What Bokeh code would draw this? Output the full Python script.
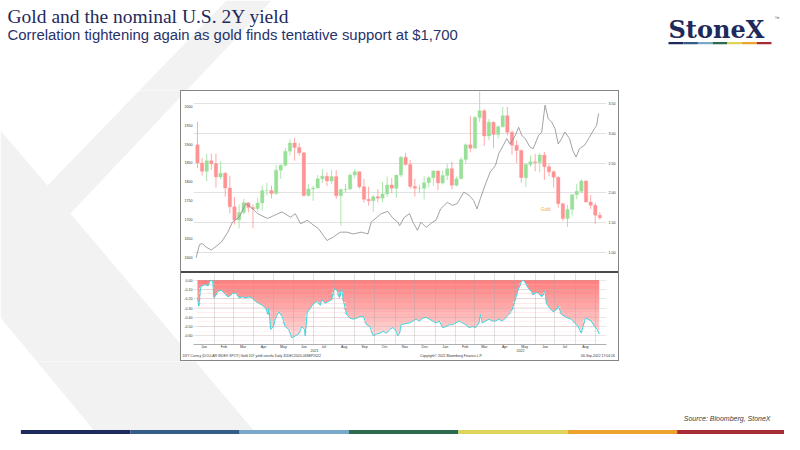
import numpy as np
import pandas as pd
from bokeh.plotting import figure
from bokeh.models import (Range1d, LinearAxis, FixedTicker, NumeralTickFormatter,
                          Grid, Label, Spacer)
from bokeh.layouts import row, column
from bokeh.embed import file_html
from bokeh.resources import INLINE
from bokeh.core.properties import value

# ------------------------------------------------------------------ data
BASE_DATE = "2021-01-01"          # day 0 of the x axis
GOLD_FIRST_WEEK = "2021-01-04"    # weekly gold candles (Mondays)

gold_open = [1898, 1850, 1828, 1856, 1848, 1813, 1823, 1784, 1734, 1699, 1719, 1745, 1732, 1729, 1744,
             1777, 1777, 1769, 1831, 1844, 1881, 1903, 1891, 1877, 1764, 1781, 1784, 1808, 1815, 1802,
             1814, 1763, 1780, 1781, 1818, 1827, 1787, 1754, 1750, 1761, 1757, 1768, 1792, 1783, 1818,
             1865, 1846, 1788, 1783, 1783, 1798, 1811,
             1829, 1797, 1817, 1835, 1791, 1808, 1859, 1898, 1889, 1970, 1988, 1921, 1958, 1925, 1946,
             1975, 1931, 1897, 1883, 1811, 1846, 1853, 1851, 1871, 1840, 1827, 1812, 1742, 1703, 1727,
             1766, 1775, 1802, 1747, 1738, 1712]
gold_high = [1959, 1863, 1875, 1875, 1875, 1855, 1826, 1816, 1760, 1740, 1755, 1745, 1740, 1758, 1790,
             1798, 1790, 1845, 1846, 1890, 1913, 1916, 1903, 1878, 1795, 1790, 1818, 1834, 1825, 1832,
             1831, 1782, 1795, 1823, 1834, 1827, 1808, 1787, 1765, 1781, 1800, 1814, 1810, 1818, 1869,
             1877, 1858, 1808, 1793, 1815, 1815, 1831,
             1830, 1830, 1848, 1853, 1814, 1865, 1902, 1974, 1974, 2070, 1992, 1966, 1960, 1950, 1998,
             1998, 1936, 1910, 1885, 1850, 1870, 1874, 1876, 1879, 1847, 1830, 1815, 1745, 1739, 1767,
             1795, 1807, 1803, 1765, 1745, 1720]
gold_low = [1836, 1817, 1802, 1832, 1785, 1807, 1761, 1717, 1687, 1677, 1714, 1719, 1677, 1721, 1725,
            1764, 1756, 1766, 1808, 1840, 1870, 1856, 1870, 1761, 1761, 1750, 1783, 1797, 1789, 1794,
            1755, 1684, 1771, 1778, 1809, 1782, 1745, 1737, 1721, 1746, 1746, 1760, 1770, 1758, 1813,
            1843, 1782, 1761, 1770, 1753, 1785, 1789,
            1778, 1793, 1805, 1780, 1788, 1808, 1849, 1878, 1889, 1958, 1895, 1910, 1890, 1915, 1944,
            1923, 1872, 1850, 1798, 1786, 1840, 1828, 1825, 1805, 1816, 1785, 1732, 1697, 1681, 1711,
            1754, 1770, 1745, 1728, 1688, 1700]
gold_close = [1850, 1828, 1856, 1848, 1813, 1823, 1784, 1734, 1699, 1719, 1745, 1732, 1729, 1744, 1777,
              1777, 1769, 1831, 1844, 1881, 1903, 1891, 1877, 1764, 1781, 1784, 1808, 1815, 1802, 1814,
              1763, 1780, 1781, 1818, 1827, 1787, 1754, 1750, 1761, 1757, 1768, 1792, 1783, 1818, 1865,
              1846, 1788, 1783, 1783, 1798, 1811, 1829,
              1797, 1817, 1835, 1791, 1808, 1859, 1898, 1889, 1970, 1988, 1921, 1958, 1925, 1946, 1975,
              1931, 1897, 1883, 1811, 1846, 1853, 1851, 1871, 1840, 1827, 1812, 1742, 1703, 1727, 1766,
              1775, 1802, 1747, 1738, 1712, 1705]

# US 10Y yield (right axis), days since BASE_DATE
yield_days = [3, 8, 12, 18, 26, 41, 51, 58, 68, 78, 86, 96, 111, 121, 133, 146, 153, 161, 171, 178,
              188, 201, 211, 221, 231, 241, 253, 263, 268, 283, 293, 301, 308, 311, 318, 326, 331, 338,
              343, 351, 361, 366, 373, 383, 391, 398, 408, 416, 423, 428, 433, 441, 448, 456, 461, 468,
              473, 478, 486, 491, 496, 501, 508, 513, 521, 526, 531, 536, 541, 546, 551, 556, 561, 568,
              573, 578, 583, 591, 598, 606, 609, 612]
yield_vals = [0.91, 1.13, 1.15, 1.09, 1.04, 1.17, 1.34, 1.51, 1.59, 1.82, 1.76, 1.65, 1.57, 1.62, 1.68,
              1.59, 1.65, 1.48, 1.54, 1.48, 1.40, 1.20, 1.26, 1.34, 1.34, 1.31, 1.34, 1.31, 1.51, 1.65,
              1.69, 1.57, 1.51, 1.45, 1.59, 1.65, 1.51, 1.37, 1.51, 1.42, 1.51, 1.54, 1.73, 1.84, 1.79,
              1.82, 2.01, 1.96, 1.87, 1.73, 1.90, 2.15, 2.35, 2.46, 2.66, 2.80, 2.91, 2.82, 2.96, 3.10,
              2.96, 2.91, 2.77, 2.74, 2.96, 3.02, 3.47, 3.24, 3.19, 3.08, 2.82, 2.91, 3.02, 2.91, 2.71,
              2.60, 2.74, 2.80, 2.93, 3.08, 3.13, 3.33]

# rolling correlation (lower panel), days since BASE_DATE
corr_days = [5, 7, 10, 16, 21, 25, 28, 30, 33, 36, 41, 46, 51, 56, 58, 63, 68, 73, 78, 83,
             88, 93, 98, 103, 108, 112, 113, 116, 120, 123, 128, 133, 138, 143, 148, 153, 158, 163, 167, 168,
             171, 176, 181, 186, 191, 193, 198, 203, 208, 212, 216, 220, 223, 226, 231, 236, 241, 246, 251, 256,
             261, 266, 271, 276, 281, 286, 291, 296, 301, 306, 308, 311, 313, 318, 326, 331, 336, 341, 346, 351,
             356, 361, 366, 371, 376, 381, 386, 391, 396, 401, 406, 411, 416, 421, 426, 431, 433, 436, 441, 446,
             451, 456, 461, 466, 471, 476, 481, 485, 488, 491, 495, 498, 502, 506, 510, 513, 517, 521, 526, 531,
             533, 538, 543, 548, 551, 556, 561, 566, 571, 576, 581, 586, 588, 592, 596, 601, 606, 610, 613]
corr_vals = [-0.19, -0.28, -0.07, -0.05, -0.06, 0.00, -0.01, -0.19, -0.16, -0.12,
             -0.11, -0.14, -0.18, -0.16, -0.14, -0.14, -0.19, -0.18, -0.19, -0.18,
             -0.19, -0.23, -0.25, -0.27, -0.30, -0.37, -0.30, -0.53, -0.50, -0.41,
             -0.34, -0.39, -0.50, -0.53, -0.62, -0.60, -0.58, -0.50, -0.53, -0.60,
             -0.35, -0.30, -0.25, -0.23, -0.27, -0.21, -0.25, -0.23, -0.21, -0.09,
             -0.11, -0.19, -0.09, -0.23, -0.37, -0.41, -0.42, -0.41, -0.39, -0.39,
             -0.48, -0.50, -0.60, -0.58, -0.57, -0.55, -0.57, -0.53, -0.51, -0.55,
             -0.60, -0.57, -0.48, -0.47, -0.46, -0.44, -0.42, -0.44, -0.41, -0.40,
             -0.42, -0.44, -0.46, -0.44, -0.51, -0.50, -0.48, -0.48, -0.46, -0.44,
             -0.46, -0.48, -0.51, -0.50, -0.51, -0.46, -0.37, -0.46, -0.44, -0.42,
             -0.44, -0.44, -0.42, -0.44, -0.41, -0.37, -0.32, -0.23, -0.16, -0.09,
             -0.02, 0.00, -0.04, -0.09, -0.12, -0.16, -0.13, -0.14, -0.18, -0.12,
             -0.25, -0.30, -0.34, -0.32, -0.28, -0.37, -0.39, -0.41, -0.42, -0.46,
             -0.50, -0.57, -0.51, -0.41, -0.42, -0.44, -0.50, -0.53, -0.58]

gold_ticks = [1600, 1650, 1700, 1750, 1800, 1850, 1900, 1950, 2000]
yield_ticks = [1.0, 1.5, 2.0, 2.5, 3.0, 3.5]
corr_ticks = [0.0, -0.1, -0.2, -0.3, -0.4, -0.5, -0.6]
month_labels = ["Jan", "Feb", "Mar", "Apr", "May", "Jun", "Jul", "Aug", "Sep", "Oct", "Nov", "Dec",
                "Jan", "Feb", "Mar", "Apr", "May", "Jun", "Jul", "Aug"]
year_labels = ["2021", "2022"]

title_text = "Gold and the nominal U.S. 2Y yield"
subtitle_text = "Correlation tightening again as gold finds tentative support at $1,700"
source_text = "Source: Bloomberg, StoneX"
footer_texts = ["DXY Curncy (DOLLAR INDEX SPOT) Gold 10Y yield correla  Daily 31DEC2020-06SEP2022",
                "Copyright\u00a9 2022 Bloomberg Finance L.P.",
                "06-Sep-2022 17:04:26"]
footer_pos = [88, 389, 611]       # label centres, in x-axis days

# ------------------------------------------------------------------ styling
NAVY = "#1F2A5C"
BRAND = ["#1F2A5C", "#365C8A", "#79A8CA", "#2D6B4E", "#DDD45B", "#ECA42F", "#A82C35"]
WM = "#F2F2F2"
SANS = "Liberation Sans"
TICK_FS = "3.6px"
# watermark polygon in slide pixels
wm_x = [226, 271, 70, 270, 110, 0, 0, 47]
wm_y = [0, 0, 213, 450, 450, 317, 130, 185]

base = pd.Timestamp(BASE_DATE)
X_START, X_END = -1.0, 624.0
xr = Range1d(X_START, X_END)


def deco(w, h, x0, x1, y_top, y_bot):
    p = figure(width=w, height=h, x_range=Range1d(x0, x1), y_range=Range1d(y_bot, y_top),
               output_backend="svg", toolbar_location=None, x_axis_location=None,
               y_axis_location=None, min_border=0, outline_line_color=None,
               background_fill_color="white", border_fill_color="white")
    p.xgrid.visible = False
    p.ygrid.visible = False
    p.patch(wm_x, wm_y, fill_color=WM, line_color=None)
    return p


def quiet(ax, standoff=1):
    ax.major_tick_out = 0
    ax.major_tick_in = 0
    ax.minor_tick_out = 0
    ax.minor_tick_in = 0
    ax.major_tick_line_color = None
    ax.minor_tick_line_color = None
    ax.major_label_standoff = standoff
    ax.major_label_text_font_size = TICK_FS
    ax.major_label_text_font = SANS
    ax.major_label_text_color = "#333333"


# ------------------------------------------------------------------ top panel (gold + yield)
top = figure(width=437, height=180, x_range=xr, y_range=Range1d(1563, 2039),
             output_backend="svg", toolbar_location=None, x_axis_location=None,
             min_border_left=11, min_border_right=9, min_border_top=0, min_border_bottom=0,
             outline_line_color=None, background_fill_color="white", border_fill_color="white")
top.xgrid.visible = False
top.ygrid.visible = False
top.extra_y_ranges = {"yield": Range1d(0.68, 3.70)}
top.add_layout(Grid(dimension=1, ticker=FixedTicker(ticks=yield_ticks), y_range_name="yield",
                    grid_line_color="#DADADA", grid_line_width=0.8))

yl = top.yaxis[0]
yl.ticker = FixedTicker(ticks=gold_ticks)
ry = LinearAxis(y_range_name="yield", ticker=FixedTicker(ticks=yield_ticks),
                formatter=NumeralTickFormatter(format="0.00"))
top.add_layout(ry, "right")
for ax in (yl, ry):
    ax.axis_line_color = None
    quiet(ax, 1)
ry.major_label_standoff = 2

wk = pd.date_range(GOLD_FIRST_WEEK, periods=len(gold_open), freq="7D")
gx = np.array((wk - base).days, dtype=float) + 2.0
o = np.array(gold_open, float)
c = np.array(gold_close, float)
hi = np.array(gold_high, float)
lo = np.array(gold_low, float)
cols = np.where(c >= o, "#98E098", "#FF9393")
top.segment(x0=gx, y0=lo, x1=gx, y1=hi, color=cols, line_width=0.8)
top.vbar(x=gx, width=5.2, top=np.maximum(o, c), bottom=np.minimum(o, c),
         fill_color=cols, line_color=cols, line_width=0.3)
top.line(yield_days, yield_vals, y_range_name="yield", color="#8C8C8C", line_width=0.8)
top.add_layout(Label(x=532, y=1727, text="Gold", text_font_size="4.6px", text_font=SANS,
                     text_color="#F5A540", text_align="center", text_baseline="middle"))

# ------------------------------------------------------------------ lower panel (correlation)
low = figure(width=437, height=87, x_range=xr, y_range=Range1d(-0.692, 0.071),
             output_backend="svg", toolbar_location=None,
             min_border_left=11, min_border_right=9, min_border_top=0, min_border_bottom=15,
             outline_line_color=None, background_fill_color="white", border_fill_color="white")

starts = pd.date_range(BASE_DATE, periods=len(month_labels) + 1, freq="MS")
sday = np.array((starts - base).days)
mids = [int((a + b) // 2) for a, b in zip(sday[:-1], sday[1:])]

xa = low.xaxis[0]
xa.ticker = FixedTicker(ticks=mids)
xa.major_label_overrides = {m: lab for m, lab in zip(mids, month_labels)}
xa.axis_line_color = "#777777"
xa.axis_line_width = 0.6
quiet(xa, 0)

year_bounds = [X_START, float((pd.Timestamp("2022-01-01") - base).days), X_END]
year_mid = [int(round((year_bounds[i] + year_bounds[i + 1]) / 2)) for i in range(len(year_labels))]
yr_ax = LinearAxis(ticker=FixedTicker(ticks=year_mid),
                   major_label_overrides={m: t for m, t in zip(year_mid, year_labels)})
yr_ax.axis_line_color = None
quiet(yr_ax, -3)
low.add_layout(yr_ax, "below")

ft_ax = LinearAxis(ticker=FixedTicker(ticks=footer_pos),
                   major_label_overrides={m: t for m, t in zip(footer_pos, footer_texts)})
ft_ax.axis_line_color = None
quiet(ft_ax, -1)
ft_ax.major_label_text_font_size = "3.4px"
low.add_layout(ft_ax, "below")

ya = low.yaxis[0]
ya.ticker = FixedTicker(ticks=corr_ticks)
ya.formatter = NumeralTickFormatter(format="0.00")
ya.axis_line_color = None
quiet(ya, 1)

cd = np.array(corr_days, float)
cv = np.array(corr_vals, float)
edges = np.linspace(-0.70, 0.0, 15)
for a, b in zip(edges[:-1], edges[1:]):
    t = min(max(-(a + b) / 2 / 0.65, 0.0), 1.0)
    g = int(round(126 + t * (224 - 126)))
    col = "#ff%02x%02x" % (g, g)
    low.varea(x=cd, y1=np.clip(cv, a, b), y2=min(b + 0.003, 0.0), fill_color=col)
low.line(cd, cv, color="#3CD8E0", line_width=1.0)

low.xgrid.ticker = FixedTicker(ticks=list(sday[1:]))
low.xgrid.grid_line_color = "#A0A0A0"
low.xgrid.grid_line_alpha = 0.45
low.xgrid.grid_line_width = 0.7
low.xgrid.level = "overlay"
low.ygrid.ticker = FixedTicker(ticks=corr_ticks)
low.ygrid.grid_line_color = "#A0A0A0"
low.ygrid.grid_line_alpha = 0.35
low.ygrid.grid_line_width = 0.7
low.ygrid.level = "overlay"

# ------------------------------------------------------------------ slide decoration
top_band = deco(784, 90, 0, 784, 0, 90)
top_band.text(x=[7], y=[16.4], text=[title_text], text_font=value("Liberation Serif"),
              text_font_size="19.5px", text_color=NAVY, text_baseline="middle")
top_band.text(x=[7], y=[34.4], text=[subtitle_text], text_font=value(SANS),
              text_font_size="14.9px", text_color="#27326A", text_baseline="middle")
top_band.text(x=[668], y=[28.5], text=["StoneX"], text_font=value("DejaVu Serif"),
              text_font_style="bold", text_font_size="24px", text_color=NAVY,
              text_baseline="middle")
top_band.text(x=[774], y=[17], text=["\u2122"], text_font=value(SANS), text_font_size="5px",
              text_color="#555555", text_baseline="middle")
lb = np.linspace(668, 771, len(BRAND) + 1)
top_band.quad(left=lb[:-1], right=lb[1:], top=41.5, bottom=43.8, fill_color=BRAND, line_color=None)

left_fill = deco(180, 271, 0, 180, 90, 361)
right_fill = deco(165, 271, 619, 784, 90, 361)

bottom_band = deco(784, 73, 0, 784, 361, 434)
bb = np.linspace(20.4, 786, len(BRAND) + 1)
bottom_band.quad(left=bb[:-1], right=bb[1:], top=429.5, bottom=435, fill_color=BRAND, line_color=None)
bottom_band.text(x=[770], y=[418.3], text=[source_text], text_font=value(SANS), text_font_style="italic",
                 text_font_size="7px", text_color="#404040", text_align="right",
                 text_baseline="middle")


def bar(w, h, color):
    return Spacer(width=w, height=h, styles={"background-color": color})


BORDER = "#858585"
chart_inner = column(top, bar(437, 2, "#4A4A4A"), low, spacing=0)
chart_block = column(bar(439, 1, BORDER),
                     row(bar(1, 269, BORDER), chart_inner, bar(1, 269, BORDER), spacing=0),
                     bar(439, 1, BORDER), spacing=0)
layout = column(top_band, row(left_fill, chart_block, right_fill, spacing=0), bottom_band, spacing=0)

open("out.html", "w").write(file_html(layout, INLINE, title="Gold and the nominal U.S. 2Y yield"))
